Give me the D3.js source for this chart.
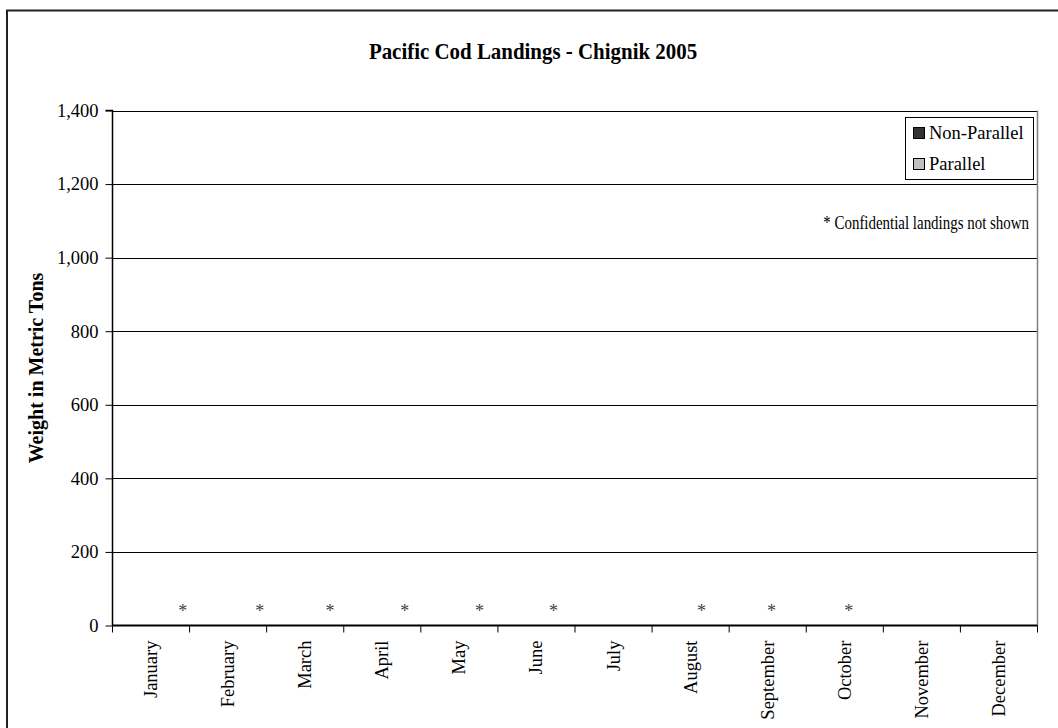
<!DOCTYPE html>
<html>
<head>
<meta charset="utf-8">
<script src="https://cdn.jsdelivr.net/npm/d3@7"></script>
<style>
  html, body { margin: 0; padding: 0; background: #fff; }
  svg { display: block; font-family: "Liberation Serif", "Times New Roman", serif; }
</style>
</head>
<body>
<svg id="chart" width="1058" height="728"></svg>
<script>
const title = "Pacific Cod Landings - Chignik 2005";
const yTitle = "Weight in Metric Tons";
const months = ["January","February","March","April","May","June","July","August","September","October","November","December"];
const nonParallel = [0,0,0,0,0,0,0,0,0,0,0,0];
const parallel = [0,0,0,0,0,0,0,0,0,0,0,0];
const yTicks = [0,200,400,600,800,1000,1200,1400];
const seriesNames = ["Non-Parallel","Parallel"];
const seriesColors = ["#333333","#c0c0c0"];
const note = "* Confidential landings not shown";
// confidential marker positions (in month units along the axis) and height (metric tons)
const confidentialPos = [0.91, 1.91, 2.82, 3.79, 4.76, 5.72, 7.64, 8.55, 9.55];
const confidentialY = [48, 48, 48, 48, 48, 48, 48, 48, 48];

const svg = d3.select("#chart");
const m = {left: 112.5, top: 110.5, right: 1037.5, bottom: 625.5};
const FS = 18.5;

// outer border
svg.append("rect").attr("x", 7).attr("y", 10.5).attr("width", 1100).attr("height", 800)
  .attr("fill", "#fff").attr("stroke", "#222").attr("stroke-width", 2);

svg.append("text").attr("transform", "translate(533,59) scale(0.91,1)").attr("text-anchor", "middle")
  .attr("font-size", 23).attr("font-weight", "bold").text(title);

const y = d3.scaleLinear().domain([0, 1400]).range([m.bottom, m.top]);
const x = d3.scaleBand().domain(months).range([m.left, m.right]).paddingInner(0.4).paddingOuter(0.2);
const xu = d3.scaleLinear().domain([0, 12]).range([m.left, m.right]);

// gridlines
svg.append("g").selectAll("line").data(yTicks.filter(d => d > 0)).join("line")
  .attr("x1", m.left).attr("x2", m.right)
  .attr("y1", d => Math.round(y(d)) + 0.5).attr("y2", d => Math.round(y(d)) + 0.5)
  .attr("stroke", "#000").attr("stroke-width", 1);

// right plot border
svg.append("line").attr("x1", m.right).attr("x2", m.right).attr("y1", m.top).attr("y2", m.bottom)
  .attr("stroke", "#808080").attr("stroke-width", 1.5);

// bars (stacked)
const stack = d3.stack().keys([0,1]).value((d, k) => k === 0 ? nonParallel[d] : parallel[d]);
const stacked = stack(d3.range(12));
stacked.forEach((s, k) => {
  svg.append("g").selectAll("rect").data(s).join("rect")
    .attr("x", (d, i) => x(months[i])).attr("width", x.bandwidth())
    .attr("y", d => y(d[1])).attr("height", d => y(d[0]) - y(d[1]))
    .attr("fill", seriesColors[k]).attr("stroke", "#000").attr("stroke-width", d => (d[1] - d[0]) > 0 ? 1 : 0);
});

// y axis
const yAxis = d3.axisLeft(y).tickValues(yTicks).tickSize(7).tickPadding(7).tickFormat(d3.format(","));
const ga = svg.append("g").attr("transform", `translate(${m.left},0)`).call(yAxis);
ga.select(".domain").attr("stroke", "#000").attr("stroke-width", 1.5).attr("d", `M-7,${m.top}H0V${m.bottom}`);
ga.selectAll(".tick line").attr("stroke", "#000");
ga.selectAll(".tick text").attr("font-size", FS).attr("font-family", "Liberation Serif").attr("fill", "#000");

// x axis: ticks at category boundaries
const xb = svg.append("g");
xb.append("line").attr("x1", m.left - 0.5).attr("x2", m.right).attr("y1", m.bottom).attr("y2", m.bottom)
  .attr("stroke", "#000").attr("stroke-width", 2);
xb.selectAll("line.tk").data(d3.range(13)).join("line").attr("class", "tk")
  .attr("x1", d => xu(d)).attr("x2", d => xu(d)).attr("y1", m.bottom).attr("y2", m.bottom + 7)
  .attr("stroke", "#000").attr("stroke-width", 1);
xb.selectAll("text").data(months).join("text")
  .attr("transform", d => `translate(${x(d) + x.bandwidth() / 2 + 6},${m.bottom + 15}) rotate(-90)`)
  .attr("text-anchor", "end").attr("font-size", FS).text(d => d);

// confidential markers
svg.append("g").selectAll("text").data(confidentialPos).join("text")
  .attr("x", d => xu(d)).attr("y", (d, i) => y(confidentialY[i]) + 9)
  .attr("text-anchor", "middle").attr("font-size", 18).attr("fill", "#404040").text("*");

// y title
svg.append("text").attr("transform", `translate(43,368) rotate(-90)`).attr("text-anchor", "middle")
  .attr("font-size", 20).attr("font-weight", "bold").text(yTitle);

// legend
const lg = svg.append("g");
lg.append("rect").attr("x", 905.5).attr("y", 117.5).attr("width", 128).attr("height", 62)
  .attr("fill", "#fff").attr("stroke", "#000").attr("stroke-width", 1);
seriesNames.forEach((n, i) => {
  lg.append("rect").attr("x", 913.5).attr("y", 127.5 + i * 31).attr("width", 11).attr("height", 11)
    .attr("fill", seriesColors[i]).attr("stroke", "#000").attr("stroke-width", 1);
  lg.append("text").attr("x", 929).attr("y", 138.5 + i * 31).attr("font-size", FS).text(n);
});

svg.append("text").attr("transform", "translate(1029,229) scale(0.83,1)").attr("text-anchor", "end")
  .attr("font-size", 18).text(note);
</script>
</body>
</html>
